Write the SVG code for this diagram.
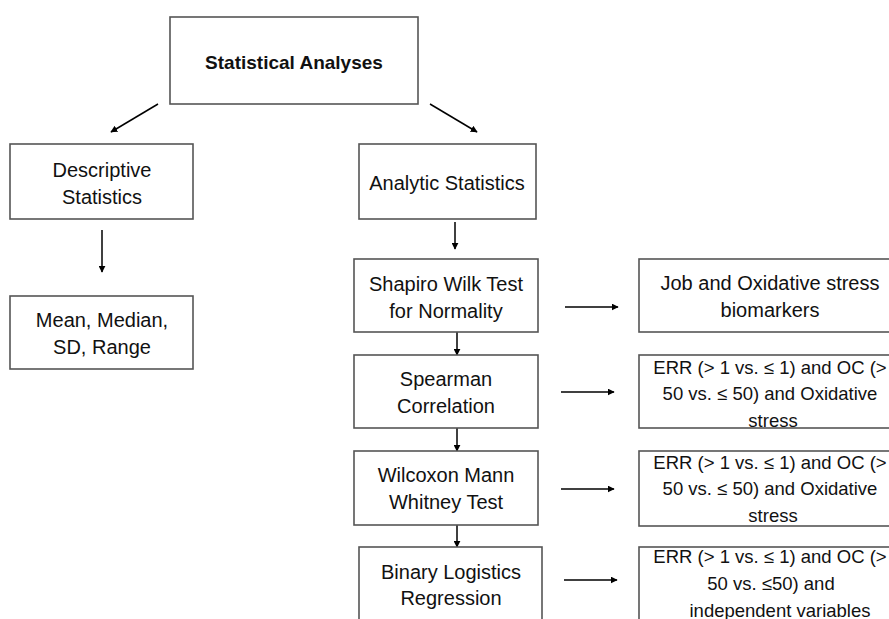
<svg xmlns="http://www.w3.org/2000/svg" width="889" height="619" viewBox="0 0 889 619">
<defs>
<marker id="ah" viewBox="0 0 10 10" refX="9" refY="5" markerWidth="7" markerHeight="7" markerUnits="userSpaceOnUse" orient="auto">
<path d="M0,0 L10,5 L0,10 z" fill="#000"/>
</marker>
<style>
rect{fill:#fff;stroke:#555;stroke-width:1.6}
text{font-family:"Liberation Sans",Arial,sans-serif;font-size:20px;fill:#111;text-anchor:middle;dominant-baseline:central}
.b{font-weight:bold;font-size:19px}
.s{font-size:18.5px}
#connectors line{stroke:#000;stroke-width:1.5;marker-end:url(#ah)}
</style>
</defs>
<rect x="0" y="0" width="889" height="619" style="fill:#fff;stroke:none"/>
<g id="connectors">
<line x1="158" y1="104" x2="111" y2="132"/>
<line x1="430" y1="104" x2="477" y2="132"/>
<line x1="102" y1="230" x2="102" y2="272"/>
<line x1="455" y1="222" x2="455" y2="249"/>
<line x1="457" y1="332" x2="457" y2="355"/>
<line x1="457" y1="428" x2="457" y2="451"/>
<line x1="457" y1="525" x2="457" y2="547"/>
<line x1="565" y1="307" x2="618" y2="307"/>
<line x1="561" y1="392" x2="614" y2="392"/>
<line x1="561" y1="489" x2="614" y2="489"/>
<line x1="564" y1="580" x2="617" y2="580"/>
</g>
<g id="n-root"><rect x="170" y="17" width="248" height="87"/><text x="294" y="62" class="b">Statistical Analyses</text></g>
<g id="n-desc"><rect x="10" y="144" width="183" height="75"/><text x="102" y="170">Descriptive</text><text x="102" y="197">Statistics</text></g>
<g id="n-mean"><rect x="10" y="296" width="183" height="73"/><text x="102" y="320">Mean, Median,</text><text x="102" y="347">SD, Range</text></g>
<g id="n-analytic"><rect x="359" y="144" width="177" height="75"/><text x="447" y="183">Analytic Statistics</text></g>
<g id="n-shapiro"><rect x="354" y="259" width="184" height="73"/><text x="446" y="284">Shapiro Wilk Test</text><text x="446" y="311">for Normality</text></g>
<g id="n-job"><rect x="639" y="259" width="260" height="73"/><text x="770" y="283">Job and Oxidative stress</text><text x="770" y="310">biomarkers</text></g>
<g id="n-spearman"><rect x="354" y="355" width="184" height="73"/><text x="446" y="379">Spearman</text><text x="446" y="406">Correlation</text></g>
<g id="n-err1"><rect x="639" y="355" width="260" height="73"/><text class="s" x="770" y="367">ERR (&gt; 1 vs. ≤ 1) and OC (&gt;</text><text class="s" x="770" y="393">50 vs. ≤ 50) and Oxidative</text><text class="s" x="773" y="420">stress</text></g>
<g id="n-wilcoxon"><rect x="354" y="451" width="184" height="74"/><text x="446" y="475">Wilcoxon Mann</text><text x="446" y="502">Whitney Test</text></g>
<g id="n-err2"><rect x="639" y="451" width="260" height="75"/><text class="s" x="770" y="462">ERR (&gt; 1 vs. ≤ 1) and OC (&gt;</text><text class="s" x="770" y="488">50 vs. ≤ 50) and Oxidative</text><text class="s" x="773" y="515">stress</text></g>
<g id="n-binary"><rect x="359" y="547" width="183" height="80"/><text x="451" y="572">Binary Logistics</text><text x="451" y="598">Regression</text></g>
<g id="n-err3"><rect x="639" y="547" width="260" height="80"/><text class="s" x="770" y="556">ERR (&gt; 1 vs. ≤ 1) and OC (&gt;</text><text class="s" x="771" y="583">50 vs. ≤50) and</text><text class="s" x="780" y="610">independent variables</text></g>
</svg>
